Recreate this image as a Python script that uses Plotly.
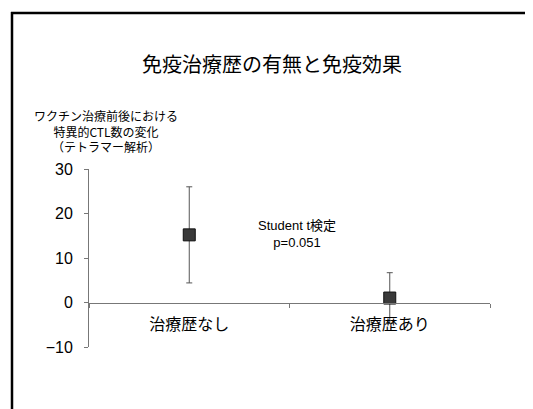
import plotly.graph_objects as go

categories = ["治療歴なし", "治療歴あり"]
means = [15.2, 1.0]
errors = [10.8, 5.7]
y_ticks = [-10, 0, 10, 20, 30]

FONT = "Arial, 'Liberation Sans', 'Noto Sans CJK JP'"
JP = "'Noto Sans CJK JP', Arial"

# page body has an 8px margin; work in screenshot pixels and shift
OFF = 8
W, H = 525, 401
L, T = 89 - OFF, 169 - OFF
pw, ph = 401, 178
R, B = W - L - pw, H - T - ph

def px_x(x):
    return (x - OFF - L) / pw

def px_y(y):
    return (H - B - (y - OFF)) / ph

fig = go.Figure()
fig.add_trace(go.Scatter(
    x=categories, y=means, mode="markers",
    marker=dict(symbol="square", size=12, color="#3a3a3a",
                line=dict(color="#111", width=1)),
    error_y=dict(type="data", array=errors, visible=True,
                 color="#555", thickness=1, width=3),
    showlegend=False, cliponaxis=False,
))

fig.update_layout(
    width=W, height=H,
    margin=dict(l=L, r=R, t=T, b=B),
    paper_bgcolor="white", plot_bgcolor="white",
    font=dict(family=FONT, color="black"),
    xaxis=dict(type="category", range=[-0.5, 1.5], anchor="free",
               position=0.25, showline=True, linecolor="#777", linewidth=1,
               ticks="outside", ticklen=4, tickcolor="#777",
               tickson="boundaries", showgrid=False,
               ticklabelstandoff=7,
               tickfont=dict(family=JP, size=16, color="black")),
    yaxis=dict(range=[-10, 30], tickvals=y_ticks, showline=True,
               linecolor="#777", linewidth=1, ticks="outside", ticklen=4,
               tickcolor="#777", showgrid=False, zeroline=False,
               tickfont=dict(family=FONT, size=16, color="black"),
               ticklabelstandoff=8),
    shapes=[
        dict(type="line", xref="paper", yref="paper",
             x0=px_x(11), x1=px_x(545), y0=px_y(13), y1=px_y(13),
             line=dict(color="black", width=2.5)),
        dict(type="line", xref="paper", yref="paper",
             x0=px_x(12), x1=px_x(12), y0=px_y(12), y1=px_y(420),
             line=dict(color="black", width=2.5)),
    ],
    annotations=[
        dict(text="免疫治療歴の有無と免疫効果", xref="paper", yref="paper",
             x=px_x(272), y=px_y(63), xanchor="center", yanchor="middle",
             showarrow=False,
             font=dict(family=JP, size=20, color="black")),
        dict(text="ワクチン治療前後における<br>特異的CTL数の変化<br>（テトラマー解析）",
             xref="paper", yref="paper", x=px_x(106), y=px_y(131),
             xanchor="center", yanchor="middle",
             showarrow=False, align="center",
             font=dict(family=JP, size=12, color="black")),
        dict(text="Student t検定<br>p=0.051", xref="paper", yref="paper",
             x=px_x(297), y=px_y(234), xanchor="center", yanchor="middle",
             showarrow=False, align="center",
             font=dict(family=FONT, size=13, color="black")),
    ],
)

fig.write_html("out.html")
